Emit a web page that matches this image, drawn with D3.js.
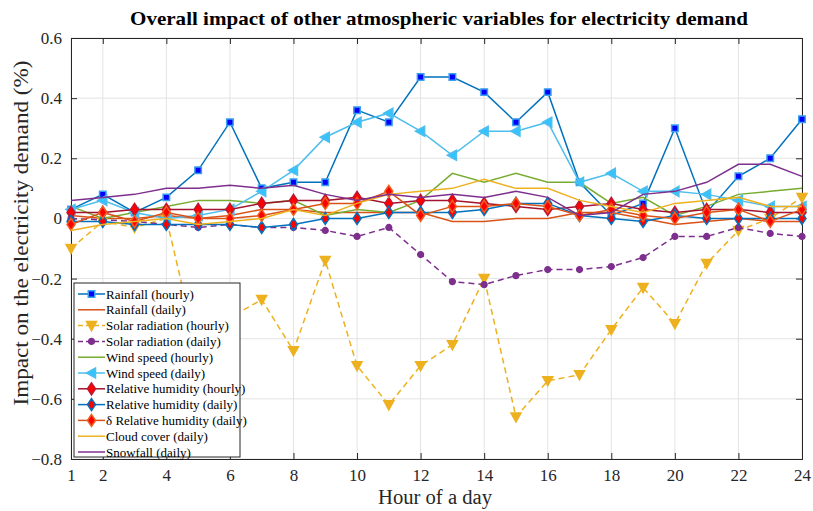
<!DOCTYPE html>
<html><head><meta charset="utf-8">
<script src="https://cdn.jsdelivr.net/npm/d3@7"></script>
<style>body{margin:0;background:#fff}svg{display:block}text{font-family:"Liberation Serif","DejaVu Serif",serif}</style>
</head><body><svg id="c" width="813" height="511"></svg>
<script>
const hours = d3.range(1, 25);
const xTicks = [1,2,4,6,8,10,12,14,16,18,20,22,24];
const yTicks = [-0.8,-0.6,-0.4,-0.2,0,0.2,0.4,0.6];

const rainfallHourly = [0.03,0.08,0.02,0.07,0.16,0.32,0.10,0.12,0.12,0.36,0.32,0.47,0.47,0.42,0.32,0.42,0.12,0.01,0.05,0.30,0.02,0.14,0.20,0.33];
const rainfallDaily = [0.01,0.00,0.00,0.01,0.00,0.01,0.03,0.03,0.02,0.02,0.02,0.02,-0.01,-0.01,0.00,0.00,0.02,0.02,0.00,-0.02,-0.01,0.00,-0.01,-0.01];
const solarHourly = [-0.10,-0.01,-0.03,0.00,-0.45,-0.33,-0.27,-0.44,-0.14,-0.49,-0.62,-0.49,-0.42,-0.20,-0.66,-0.54,-0.52,-0.37,-0.23,-0.35,-0.15,-0.04,0.00,0.07];
const solarDaily = [0.00,-0.005,-0.01,-0.02,-0.03,-0.02,-0.03,-0.03,-0.04,-0.06,-0.03,-0.12,-0.21,-0.22,-0.19,-0.17,-0.17,-0.16,-0.13,-0.06,-0.06,-0.03,-0.05,-0.06];
const windHourly = [0.04,0.00,0.02,0.04,0.06,0.06,0.05,0.06,0.01,0.03,0.02,0.06,0.15,0.12,0.15,0.12,0.12,0.05,0.07,0.01,0.04,0.08,0.09,0.10];
const windDaily = [0.03,0.06,0.02,0.00,0.01,0.03,0.09,0.16,0.27,0.32,0.35,0.29,0.21,0.29,0.29,0.32,0.12,0.15,0.09,0.09,0.08,0.06,0.04,0.04];
const rhHourly = [0.02,0.02,0.03,0.03,0.03,0.03,0.05,0.06,0.06,0.07,0.05,0.06,0.06,0.05,0.04,0.03,0.04,0.05,0.03,0.02,0.03,0.03,0.02,0.02];
const rhDaily = [-0.01,-0.01,-0.02,-0.02,-0.02,-0.02,-0.03,-0.02,0.00,0.00,0.02,0.02,0.02,0.03,0.05,0.05,0.01,0.00,-0.01,0.01,0.00,0.00,0.00,0.00];
const deltaRhDaily = [-0.02,0.02,-0.01,0.02,0.00,0.00,0.01,0.03,0.05,0.05,0.09,0.01,0.04,0.04,0.05,0.04,0.01,0.03,0.01,0.00,0.02,0.03,-0.01,0.03];
const cloudDaily = [-0.04,-0.02,-0.01,0.00,-0.02,-0.01,0.00,0.03,0.01,0.05,0.08,0.09,0.10,0.13,0.10,0.10,0.06,0.04,0.02,0.05,0.06,0.07,0.04,0.04];
const snowDaily = [0.06,0.07,0.08,0.10,0.10,0.11,0.10,0.11,0.08,0.06,0.08,0.07,0.08,0.07,0.09,0.07,0.01,0.02,0.08,0.09,0.12,0.18,0.18,0.14];

const series = [
  {name:"Rainfall (hourly)", v:rainfallHourly, color:"#0072BD", marker:"square", fill:"#0000ff", edge:"#3aa0f0"},
  {name:"Rainfall (daily)", v:rainfallDaily, color:"#D95319"},
  {name:"Solar radiation (hourly)", v:solarHourly, color:"#EDB120", dash:"6,4", marker:"tri-down", fill:"#EDB120", edge:"#EDB120"},
  {name:"Solar radiation (daily)", v:solarDaily, color:"#7E2F8E", dash:"6,4", marker:"circle", fill:"#7E2F8E", edge:"#7E2F8E"},
  {name:"Wind speed (hourly)", v:windHourly, color:"#77AC30"},
  {name:"Wind speed (daily)", v:windDaily, color:"#4DBEEE", marker:"tri-left", fill:"#33c4ff", edge:"#4DBEEE"},
  {name:"Relative humidity (hourly)", v:rhHourly, color:"#A2142F", marker:"diamond", fill:"#ff0000", edge:"#C0142F"},
  {name:"Relative humidity (daily)", v:rhDaily, color:"#0072BD", marker:"diamond", fill:"#ff0000", edge:"#0072BD"},
  {name:"\u03B4 Relative humidity (daily)", v:deltaRhDaily, color:"#D95319", marker:"diamond", fill:"#ff0000", edge:"#F06020"},
  {name:"Cloud cover (daily)", v:cloudDaily, color:"#EDB120"},
  {name:"Snowfall (daily)", v:snowDaily, color:"#7E2F8E"}
];

const W = 813, H = 511;
const m = {l:71, r:11, t:38, b:52};
const svg = d3.select("#c");
const x = d3.scaleLinear().domain([1,24]).range([m.l, W-m.r]);
const y = d3.scaleLinear().domain([-0.8,0.6]).range([H-m.b, m.t]);
const axisColor = "#262626";

// grid
const g = svg.append("g");
g.selectAll("line.gx").data(xTicks).join("line")
  .attr("x1", d=>x(d)).attr("x2", d=>x(d)).attr("y1", y(-0.8)).attr("y2", y(0.6))
  .attr("stroke", "#e3e3e3").attr("stroke-width", 1);
g.selectAll("line.gy").data(yTicks).join("line")
  .attr("y1", d=>y(d)).attr("y2", d=>y(d)).attr("x1", x(1)).attr("x2", x(24))
  .attr("stroke", "#e3e3e3").attr("stroke-width", 1);

// axes
const fmt = d => d === 0 ? "0" : d3.format(".1f")(d);
const xAxis = d3.axisBottom(x).tickValues(xTicks).tickSize(-6).tickPadding(10).tickFormat(d3.format("d"));
const xAxisTop = d3.axisTop(x).tickValues(xTicks).tickSize(-6).tickFormat("");
const yAxis = d3.axisLeft(y).tickValues(yTicks).tickSize(-6).tickPadding(9).tickFormat(fmt);
const yAxisR = d3.axisRight(y).tickValues(yTicks).tickSize(-6).tickFormat("");
function styleAxis(sel){
  sel.select(".domain").attr("stroke", axisColor).attr("stroke-width", 1);
  sel.selectAll(".tick line").attr("stroke", axisColor);
  sel.selectAll(".tick text").attr("fill", axisColor).style("font-size","17px").style("font-family","'Liberation Serif',serif");
}
svg.append("g").attr("transform", `translate(0,${y(-0.8)})`).call(xAxis).call(styleAxis);
svg.append("g").attr("transform", `translate(0,${y(0.6)})`).call(xAxisTop).call(styleAxis);
svg.append("g").attr("transform", `translate(${x(1)},0)`).call(yAxis).call(styleAxis);
svg.append("g").attr("transform", `translate(${x(24)},0)`).call(yAxisR).call(styleAxis);

// markers
function markerPath(type){
  if(type==="square") return d3.symbol(d3.symbolSquare, 42)();
  if(type==="circle") return d3.symbol(d3.symbolCircle, 26)();
  if(type==="diamond") return "M0,-6L4,0L0,6L-4,0Z";
  if(type==="tri-down") return "M-5,-4L5,-4L0,5Z";
  if(type==="tri-left") return "M-5,0L4,-5L4,5Z";
  return null;
}

const line = d3.line().x((d,i)=>x(hours[i])).y(d=>y(d));
const plot = svg.append("g");
series.forEach(s=>{
  const gs = plot.append("g");
  gs.append("path").attr("d", line(s.v)).attr("fill","none")
    .attr("stroke", s.color).attr("stroke-width", 1.5)
    .attr("stroke-dasharray", s.dash || null);
  if(s.marker){
    gs.selectAll("path.mk").data(s.v).join("path")
      .attr("transform",(d,i)=>`translate(${x(hours[i])},${y(d)})`)
      .attr("d", markerPath(s.marker))
      .attr("fill", s.fill).attr("stroke", s.edge).attr("stroke-width", 1.5);
  }
});

// title & labels
svg.append("text").attr("x", 439).attr("y", 25).attr("text-anchor","middle")
  .style("font-size","19px").style("font-weight","bold").attr("fill","#000")
  .attr("textLength", 618).attr("lengthAdjust","spacingAndGlyphs")
  .text("Overall impact of other atmospheric variables for electricity demand");
svg.append("text").attr("x", 435).attr("y", 504).attr("text-anchor","middle")
  .style("font-size","20px").attr("fill",axisColor)
  .attr("textLength", 114).attr("lengthAdjust","spacingAndGlyphs").text("Hour of a day");
svg.append("text").attr("transform",`translate(28,233) rotate(-90)`).attr("text-anchor","middle")
  .style("font-size","20px").attr("fill",axisColor)
  .attr("textLength", 345).attr("lengthAdjust","spacingAndGlyphs")
  .text("Impact on the electricity demand (%)");

// legend
const lg = svg.append("g").attr("transform","translate(74,283)");
lg.append("rect").attr("x",0).attr("y",0).attr("width",166).attr("height",174)
  .attr("fill","#fff").attr("stroke",axisColor).attr("stroke-width",1);
series.forEach((s,i)=>{
  const yy = 11 + i*15.8;
  const row = lg.append("g").attr("transform",`translate(0,${yy})`);
  row.append("line").attr("x1",4).attr("x2",31).attr("y1",0).attr("y2",0)
    .attr("stroke",s.color).attr("stroke-width",1.5).attr("stroke-dasharray", s.dash ? "5,3" : null);
  if(s.marker){
    row.append("path").attr("transform","translate(17.5,0)").attr("d", markerPath(s.marker))
      .attr("fill", s.fill).attr("stroke", s.edge).attr("stroke-width",1.5);
  }
  row.append("text").attr("x",32).attr("y",4.5).style("font-size","13px").attr("fill","#000").text(s.name);
});
</script></body></html>
